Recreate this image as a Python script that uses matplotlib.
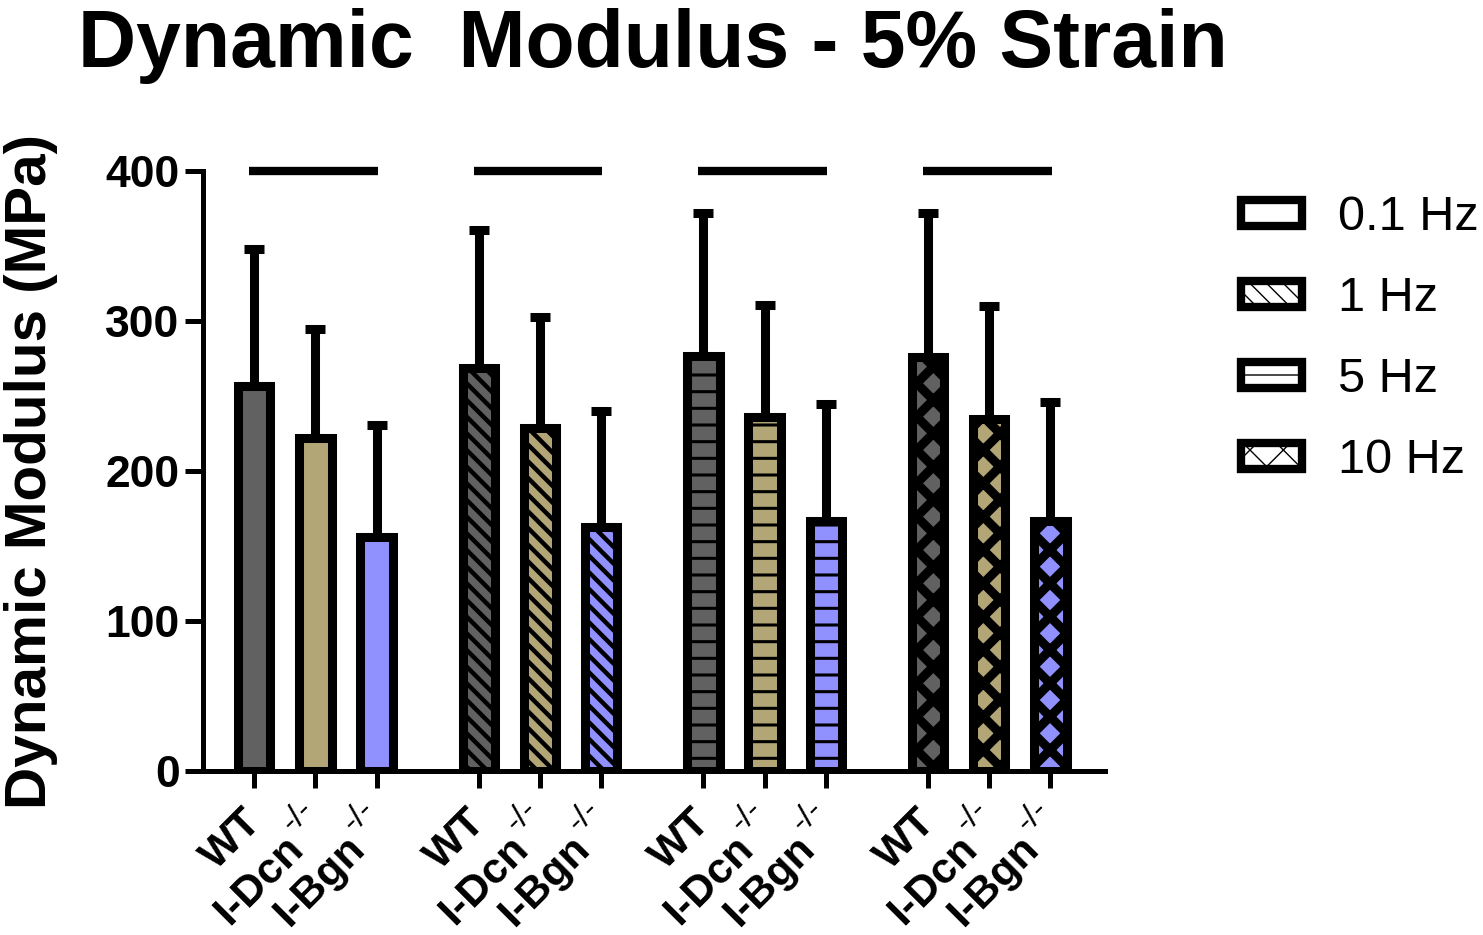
import numpy as np
import matplotlib
matplotlib.use('Agg')
import matplotlib.pyplot as plt
from matplotlib.patches import Patch

plt.rcParams['font.family'] = ['Liberation Sans', 'DejaVu Sans']

# data
frequencies = ['0.1 Hz', '1 Hz', '5 Hz', '10 Hz']
genotypes = ['WT', 'I-Dcn', 'I-Bgn']
knockout = ['', '-/-', '-/-']
wt_mean = [257, 269, 277, 276]
wt_sd = [91, 92, 95, 96]
dcn_mean = [222, 229, 236, 235]
dcn_sd = [73, 74, 75, 75]
bgn_mean = [156, 163, 167, 167]
bgn_sd = [75, 77, 78, 79]
sig_level = 400

colors = ['#616161', '#b3a676', '#9090ff']
hatches = [None, '\\\\', '-', 'x']
hatch_lw = [1.0, 3.2, 2.2, 6.5]

group_step = 3.67
bar_w = 0.53


def set_hlw(p, lw):
    # per-artist hatch width (matplotlib >= 3.10)
    if hasattr(p, 'set_hatch_linewidth'):
        p.set_hatch_linewidth(lw)
    else:
        plt.rcParams['hatch.linewidth'] = lw


fig = plt.figure(figsize=(14.83, 9.35), dpi=100)
ax = fig.add_axes([0.137, 0.1754, 0.608, 0.6417])

means = [wt_mean, dcn_mean, bgn_mean]
sds = [wt_sd, dcn_sd, bgn_sd]
xticks = []
for g in range(len(frequencies)):
    for i in range(3):
        x = g * group_step + i
        m = means[i][g]
        s = sds[i][g]
        ax.errorbar(x, m, yerr=[[0], [s]], fmt='none', ecolor='black',
                    elinewidth=6.5, capsize=7.5, capthick=6.5, zorder=1)
        bars = ax.bar(x, m, width=bar_w, color=colors[i], edgecolor='black',
                      linewidth=6.5, hatch=hatches[g], zorder=2)
        for b in bars:
            set_hlw(b, hatch_lw[g])
        xticks.append(x)

        # rotated category label, knockout mark raised like a superscript
        if knockout[i]:
            off = (-10, -79)
        else:
            off = (9, -53)
        ax.annotate(genotypes[i], xy=(x, 0), xycoords=('data', 'axes fraction'),
                    xytext=off, textcoords='offset pixels', rotation=45,
                    rotation_mode='anchor', ha='right', va='baseline',
                    fontsize=31, fontweight='bold', annotation_clip=False)
        if knockout[i]:
            ax.annotate(knockout[i], xy=(x, 0), xycoords=('data', 'axes fraction'),
                        xytext=(-23, -62), textcoords='offset pixels', rotation=45,
                        rotation_mode='anchor', ha='left', va='baseline',
                        fontsize=24, annotation_clip=False)
    # line above each group
    ax.plot([g * group_step - 0.08, g * group_step + 2.02], [sig_level, sig_level],
            color='black', lw=6, solid_capstyle='butt', clip_on=False)

ax.set_ylim(0, 400)
ax.set_xlim(-0.833, 13.9)
ax.set_yticks([0, 100, 200, 300, 400])
ax.set_xticks(xticks)
ax.set_xticklabels([])
for lab in ax.get_yticklabels():
    lab.set_fontsize(32)
    lab.set_fontweight('bold')

for side in ['top', 'right']:
    ax.spines[side].set_visible(False)
for side in ['left', 'bottom']:
    ax.spines[side].set_linewidth(3.6)
ax.tick_params(axis='y', length=13, width=3.6, pad=4)
ax.tick_params(axis='x', length=12, width=3.6)

ax.set_ylabel('Dynamic Modulus (MPa)', fontsize=42, fontweight='bold', labelpad=34)

fig.text(0.44, 0.951, 'Dynamic  Modulus - 5% Strain', fontsize=58, fontweight='bold',
         ha='center', va='center')

handles = []
for h, lw in zip(hatches, hatch_lw):
    p = Patch(facecolor='white', edgecolor='black', linewidth=6, hatch=h)
    set_hlw(p, lw)
    handles.append(p)
fig.legend(handles, frequencies, loc='upper left', bbox_to_anchor=(0.837, 0.791),
           frameon=False, fontsize=35, handlelength=1.25, handleheight=0.45,
           handletextpad=0.75, labelspacing=0.74, borderpad=0, borderaxespad=0)

fig.savefig('out.png', dpi=100)
